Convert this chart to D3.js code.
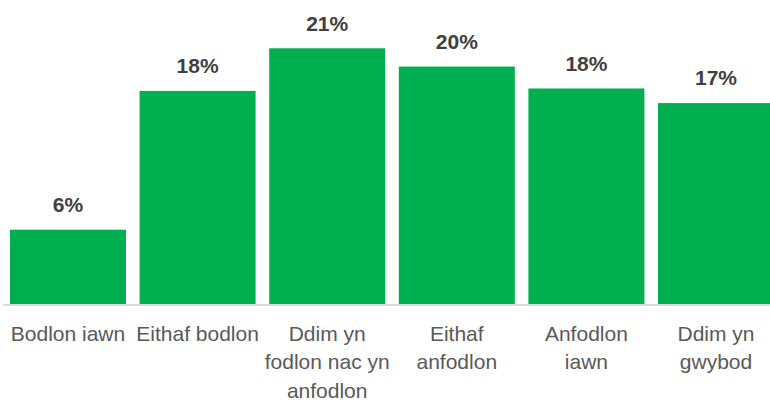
<!DOCTYPE html>
<html>
<head>
<meta charset="utf-8">
<script src="https://cdn.jsdelivr.net/npm/d3@7"></script>
<style>
	body { margin: 0; background: #fff; }
	svg { display: block; font-family: "Liberation Sans", Arial, sans-serif; }
</style>
</head>
<body>
<svg></svg>
<script>
const categories = [
	"Bodlon iawn",
	"Eithaf bodlon",
	"Ddim yn fodlon nac yn anfodlon",
	"Eithaf anfodlon",
	"Anfodlon iawn",
	"Ddim yn gwybod",
];
// label lines as wrapped in the original
const labelLines = [
	["Bodlon iawn"],
	["Eithaf bodlon"],
	["Ddim yn", "fodlon nac yn", "anfodlon"],
	["Eithaf", "anfodlon"],
	["Anfodlon", "iawn"],
	["Ddim yn", "gwybod"],
];
const values = [6.1, 17.5, 21.0, 19.5, 17.7, 16.5];

const size = { w: 770, h: 403 };
const svg = d3.select("svg").attr("width", size.w).attr("height", size.h);

const x = d3
	.scaleBand()
	.domain(categories)
	.range([3.2, 780.8])
	.paddingInner(0.105)
	.paddingOuter(0.0525);

const y = d3.scaleLinear().domain([0, 21]).range([304, 48.3]);

const data = categories.map(function (c, i) {
	return { cat: c, value: values[i], lines: labelLines[i] };
});

// bars
svg.append("g")
	.selectAll("rect")
	.data(data)
	.enter()
	.append("rect")
	.attr("x", (d) => x(d.cat))
	.attr("y", (d) => y(d.value))
	.attr("width", x.bandwidth())
	.attr("height", (d) => y(0) - y(d.value))
	.attr("fill", "#00b050");

// baseline
svg.append("line")
	.attr("x1", 3)
	.attr("x2", size.w)
	.attr("y1", y(0) + 1)
	.attr("y2", y(0) + 1)
	.attr("stroke", "#d9d9d9")
	.attr("stroke-width", 2);

// value labels
svg.append("g")
	.selectAll("text")
	.data(data)
	.enter()
	.append("text")
	.attr("x", (d) => x(d.cat) + x.bandwidth() / 2)
	.attr("y", (d) => y(d.value) - 17.6)
	.attr("text-anchor", "middle")
	.attr("font-size", 21)
	.attr("font-weight", "bold")
	.attr("fill", "#404040")
	.text((d) => Math.round(d.value) + "%");

// category labels
const catSel = svg.append("g")
	.selectAll("text")
	.data(data)
	.enter()
	.append("text")
	.attr("text-anchor", "middle")
	.attr("font-size", 21)
	.attr("fill", "#595959");

catSel.selectAll("tspan")
	.data((d) => d.lines.map((l) => ({ cat: d.cat, line: l })))
	.enter()
	.append("tspan")
	.attr("x", (d) => x(d.cat) + x.bandwidth() / 2)
	.attr("y", (d, i) => 340.5 + i * 28.5)
	.text((d) => d.line);
</script>
</body>
</html>
